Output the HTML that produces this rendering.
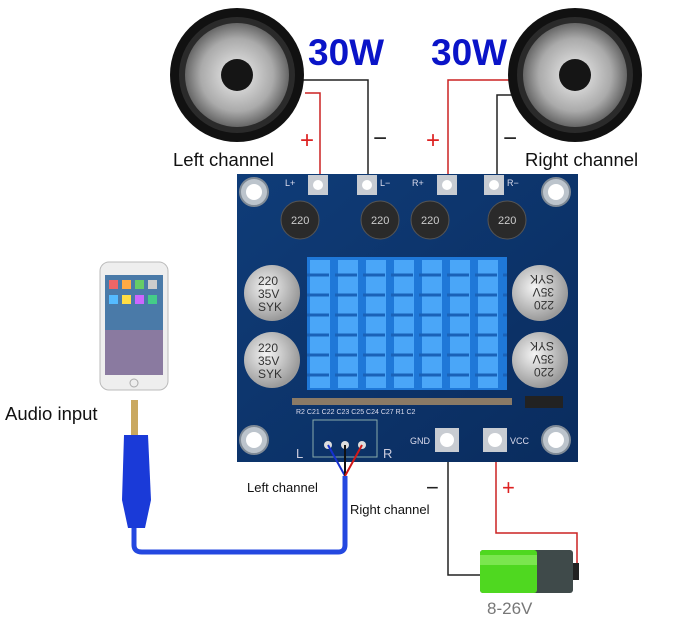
<!DOCTYPE html>
<html><head><meta charset="utf-8"><style>
html,body{margin:0;padding:0;background:#fff;}
svg{display:block;font-family:"Liberation Sans",sans-serif;}
</style></head><body>
<svg width="700" height="622" viewBox="0 0 700 622" xmlns="http://www.w3.org/2000/svg">
<defs>
<radialGradient id="cone" cx="0.5" cy="0.5" r="0.5">
<stop offset="0" stop-color="#eee"/><stop offset="0.7" stop-color="#aaa"/><stop offset="1" stop-color="#666"/>
</radialGradient>
<radialGradient id="cap" cx="0.4" cy="0.4" r="0.6">
<stop offset="0" stop-color="#f4f4f4"/><stop offset="1" stop-color="#9a9a9a"/>
</radialGradient>
<linearGradient id="board" x1="0" y1="0" x2="1" y2="1">
<stop offset="0" stop-color="#0f3c78"/><stop offset="1" stop-color="#0a2c5e"/>
</linearGradient>
</defs>
<polyline points="303,80 368,80 368,178" fill="none" stroke="#222" stroke-width="1.5"/>
<polyline points="305,93 320,93 320,178" fill="none" stroke="#c22" stroke-width="1.5"/>
<polyline points="510,80 448,80 448,178" fill="none" stroke="#c22" stroke-width="1.5"/>
<polyline points="512,95 497,95 497,178" fill="none" stroke="#222" stroke-width="1.5"/>
<g>
<circle cx="237" cy="75" r="67" fill="#111"/>
<circle cx="237" cy="75" r="58" fill="#2a2a2a"/>
<circle cx="237" cy="75" r="52" fill="url(#cone)"/>
<circle cx="237" cy="75" r="16" fill="#151515"/>
</g>
<g>
<circle cx="575" cy="75" r="67" fill="#111"/>
<circle cx="575" cy="75" r="58" fill="#2a2a2a"/>
<circle cx="575" cy="75" r="52" fill="url(#cone)"/>
<circle cx="575" cy="75" r="16" fill="#151515"/>
</g>
<text x="308" y="65" font-size="37" font-weight="bold" fill="#0a14c8">30W</text>
<text x="431" y="65" font-size="37" font-weight="bold" fill="#0a14c8">30W</text>
<text x="300" y="148" font-size="24" fill="#d22">+</text>
<text x="373" y="146" font-size="24" fill="#222">−</text>
<text x="426" y="148" font-size="24" fill="#d22">+</text>
<text x="503" y="146" font-size="24" fill="#222">−</text>
<text x="173" y="166" font-size="18.5" fill="#111">Left channel</text>
<text x="525" y="166" font-size="18.5" fill="#111">Right channel</text>
<rect x="237" y="174" width="341" height="288" fill="url(#board)"/>
<g fill="#bcc4cc" stroke="#7f8a96" stroke-width="2">
<circle cx="254" cy="192" r="14"/><circle cx="556" cy="192" r="14"/>
<circle cx="254" cy="440" r="14"/><circle cx="556" cy="440" r="14"/>
</g>
<g fill="#fff"><circle cx="254" cy="192" r="8"/><circle cx="556" cy="192" r="8"/><circle cx="254" cy="440" r="8"/><circle cx="556" cy="440" r="8"/></g>
<g fill="#c8ccd2">
<rect x="308" y="175" width="20" height="20"/><rect x="357" y="175" width="20" height="20"/>
<rect x="437" y="175" width="20" height="20"/><rect x="484" y="175" width="20" height="20"/>
<rect x="435" y="428" width="24" height="24"/><rect x="483" y="428" width="24" height="24"/>
</g>
<g fill="#fff"><circle cx="318" cy="185" r="5"/><circle cx="367" cy="185" r="5"/><circle cx="447" cy="185" r="5"/><circle cx="494" cy="185" r="5"/><circle cx="447" cy="440" r="7"/><circle cx="495" cy="440" r="7"/></g>
<g font-size="9" fill="#dde">
<text x="285" y="186">L+</text><text x="380" y="186">L−</text><text x="412" y="186">R+</text><text x="507" y="186">R−</text>
<text x="410" y="444">GND</text><text x="510" y="444">VCC</text>
<text x="296" y="414" font-size="7">R2 C21 C22 C23 C25 C24 C27 R1 C2</text>
</g>
<g fill="#2a2a2a" stroke="#555"><circle cx="300" cy="220" r="19"/><circle cx="380" cy="220" r="19"/><circle cx="430" cy="220" r="19"/><circle cx="507" cy="220" r="19"/></g>
<g font-size="11" fill="#ccc"><text x="291" y="224">220</text><text x="371" y="224">220</text><text x="421" y="224">220</text><text x="498" y="224">220</text></g>
<g fill="url(#cap)"><circle cx="272" cy="293" r="28"/><circle cx="272" cy="360" r="28"/><circle cx="540" cy="293" r="28"/><circle cx="540" cy="360" r="28"/></g>
<g font-size="12" fill="#333"><text x="258" y="285">220</text><text x="258" y="298">35V</text><text x="258" y="311">SYK</text>
<text x="258" y="352">220</text><text x="258" y="365">35V</text><text x="258" y="378">SYK</text></g>
<g transform="rotate(180 540 293)" font-size="12" fill="#333"><text x="526" y="285">220</text><text x="526" y="298">35V</text><text x="526" y="311">SYK</text></g>
<g transform="rotate(180 540 360)" font-size="12" fill="#333"><text x="526" y="352">220</text><text x="526" y="365">35V</text><text x="526" y="378">SYK</text></g>
<rect x="307" y="257" width="200" height="133" fill="#1f78d8"/>
<g fill="#4aa6f8">
<rect x="310" y="260" width="20" height="128"/><rect x="338" y="260" width="20" height="128"/><rect x="366" y="260" width="20" height="128"/><rect x="394" y="260" width="20" height="128"/><rect x="422" y="260" width="20" height="128"/><rect x="450" y="260" width="20" height="128"/><rect x="478" y="260" width="20" height="128"/>
</g>
<g stroke="#1a62b8" stroke-width="3">
<line x1="307" y1="275" x2="507" y2="275" stroke-dasharray="22 6"/><line x1="307" y1="295" x2="507" y2="295" stroke-dasharray="22 6"/><line x1="307" y1="315" x2="507" y2="315" stroke-dasharray="22 6"/><line x1="307" y1="335" x2="507" y2="335" stroke-dasharray="22 6"/><line x1="307" y1="355" x2="507" y2="355" stroke-dasharray="22 6"/><line x1="307" y1="375" x2="507" y2="375" stroke-dasharray="22 6"/>
</g>
<g fill="#8a7a66"><rect x="292" y="398" width="220" height="7"/><rect x="525" y="396" width="38" height="12" fill="#222"/></g>
<rect x="313" y="420" width="64" height="37" fill="none" stroke="#8aa" stroke-width="1"/>
<text x="296" y="458" font-size="13" fill="#ccd">L</text><text x="383" y="458" font-size="13" fill="#ccd">R</text>
<g fill="#ddd"><circle cx="328" cy="445" r="4"/><circle cx="345" cy="445" r="4"/><circle cx="362" cy="445" r="4"/></g>
<line x1="328" y1="445" x2="345" y2="476" stroke="#1530d0" stroke-width="2"/>
<line x1="345" y1="445" x2="345" y2="476" stroke="#111" stroke-width="2"/>
<line x1="362" y1="445" x2="345" y2="476" stroke="#d01818" stroke-width="2"/>
<polyline points="448,462 448,575 482,575" fill="none" stroke="#222" stroke-width="1.5"/>
<polyline points="496,462 496,533 577,533 577,570" fill="none" stroke="#c22" stroke-width="1.5"/>
<text x="426" y="495" font-size="22" fill="#222">−</text>
<text x="502" y="495" font-size="22" fill="#d22">+</text>
<rect x="480" y="550" width="93" height="43" rx="3" fill="#3f4a4a"/>
<rect x="480" y="550" width="57" height="43" rx="3" fill="#4fd820"/>
<rect x="480" y="555" width="57" height="10" fill="#9af070" opacity="0.6"/>
<rect x="573" y="563" width="6" height="17" fill="#222"/>
<text x="487" y="614" font-size="17" fill="#777">8-26V</text>
<rect x="100" y="262" width="68" height="128" rx="9" fill="#eee" stroke="#bbb"/>
<rect x="105" y="275" width="58" height="100" fill="#8a7aa0"/>
<rect x="105" y="275" width="58" height="55" fill="#4a7aa8"/>
<g fill="#e66"><rect x="109" y="280" width="9" height="9"/><rect x="122" y="280" width="9" height="9" fill="#fa4"/><rect x="135" y="280" width="9" height="9" fill="#6c6"/><rect x="148" y="280" width="9" height="9" fill="#ccc"/>
<rect x="109" y="295" width="9" height="9" fill="#5bf"/><rect x="122" y="295" width="9" height="9" fill="#fd4"/><rect x="135" y="295" width="9" height="9" fill="#c6f"/><rect x="148" y="295" width="9" height="9" fill="#4c8"/></g>
<circle cx="134" cy="383" r="4" fill="none" stroke="#aaa"/>
<text x="5" y="420" font-size="18.5" fill="#111">Audio input</text>
<rect x="131" y="400" width="7" height="35" fill="#c9a860"/>
<path d="M124,435 L148,435 L151,500 L145,528 L128,528 L122,500 Z" fill="#1a3ad8"/>
<path d="M134,528 L134,545 Q134,552 142,552 L338,552 Q345,552 345,545 L345,476" fill="none" stroke="#2448e0" stroke-width="5"/>
<text x="247" y="492" font-size="13" fill="#111">Left channel</text>
<text x="350" y="514" font-size="13" fill="#111">Right channel</text>
</svg>
</body></html>
